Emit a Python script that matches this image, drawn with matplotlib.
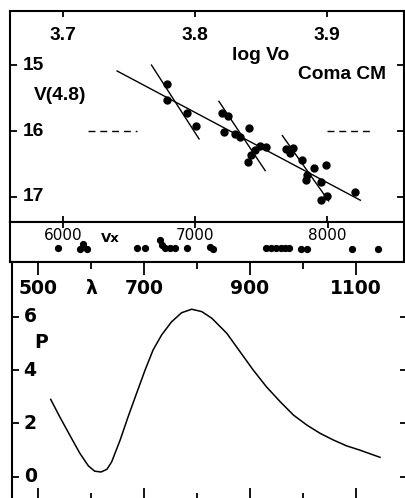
import matplotlib
matplotlib.use("Agg")
import matplotlib.pyplot as plt

# top panel: log Vo vs V(4.8), Coma CM
logv0 = [3.779, 3.779, 3.794, 3.801, 3.820, 3.825, 3.822, 3.830, 3.834, 3.841,
         3.840, 3.842, 3.845, 3.849, 3.854, 3.869, 3.874, 3.872, 3.881, 3.890,
         3.899, 3.885, 3.884, 3.895, 3.895, 3.900, 3.921]
vmag = [15.29, 15.53, 15.73, 15.92, 15.73, 15.77, 16.02, 16.05, 16.09, 15.96,
        16.47, 16.36, 16.29, 16.22, 16.25, 16.27, 16.26, 16.34, 16.44, 16.56,
        16.51, 16.67, 16.74, 16.77, 17.04, 16.99, 16.93]
# fitted lines (x0, x1), (y0, y1)
fit_x = [(3.741, 3.925), (3.767, 3.803), (3.818, 3.853), (3.866, 3.901)]
fit_y = [(15.09, 17.05), (15.00, 16.12), (15.55, 16.60), (16.07, 17.06)]
dash_x = [(3.719, 3.756), (3.900, 3.935)]
dash_y = 16.0
top_ticks = [3.7, 3.8, 3.9]
v_ticks = [15, 16, 17]

# strip: Vx
vx = [5967, 6131, 6155, 6181, 6563, 6621, 6734, 6747, 6772, 6810, 6847, 6936,
      7113, 7137, 7532, 7570, 7608, 7645, 7675, 7706, 7796, 7842, 8181, 8382]
vx_level = [3.4, 3.2, 4.4, 3.2, 3.4, 3.4, 5.5, 4.2, 3.4, 3.4, 3.4, 3.4,
            3.8, 3.2, 3.4, 3.4, 3.4, 3.4, 3.4, 3.4, 3.2, 3.2, 3.2, 3.2]
vx_ticks = [6000, 7000, 8000]

# bottom panel: P(lambda)
lam = [524, 541, 560, 579, 595, 607, 619, 630, 639, 655, 670, 686, 702, 717,
       733, 752, 771, 790, 809, 828, 856, 881, 906, 931, 957, 982, 1007,
       1032, 1057, 1082, 1107, 1145]
pval = [2.90, 2.25, 1.56, 0.88, 0.41, 0.21, 0.18, 0.28, 0.56, 1.38, 2.25, 3.13,
        4.00, 4.75, 5.31, 5.81, 6.15, 6.28, 6.19, 5.94, 5.38, 4.69, 4.00, 3.37,
        2.81, 2.31, 1.94, 1.63, 1.38, 1.16, 1.00, 0.73]
lam_ticks = [500, 600, 700, 800, 900, 1000, 1100]
lam_labels = ["500", "λ", "700", "", "900", "", "1100"]
p_ticks = [0, 2, 4, 6]

W, H = 406, 498
fig = plt.figure(figsize=(W / 100, H / 100), dpi=100)

def frac(l, t, r, b):
    return [l / W, (H - b) / H, (r - l) / W, (b - t) / H]

lw_sp = 1.5
f_top = dict(family="Liberation Sans", weight="bold", fontsize=13.8)

# ---- top panel
ax = fig.add_axes(frac(10, 11, 404, 222))
ax.plot(logv0, vmag, "o", color="k", ms=5)
for xs, ys in zip(fit_x, fit_y):
    ax.plot(xs, ys, "-", color="k", lw=1.0)
for xs in dash_x:
    ax.plot(xs, [dash_y, dash_y], color="k", lw=1.0, dashes=(5, 3.5))
ax.set_xlim(3.660, 3.958)
ax.set_ylim(17.38, 14.18)
ax.set_xticks(top_ticks, labels=[])
ax.set_yticks(v_ticks, labels=[])
ax.tick_params(axis="x", direction="in", top=True, bottom=True, length=4, width=1.3)
ax.tick_params(axis="y", direction="in", left=True, right=True, length=5, width=1.3)
for t in top_ticks:
    ax.text(t, 0.886, f"{t:.1f}", transform=ax.get_xaxis_transform(),
            ha="center", va="center", **f_top)
for t in v_ticks:
    ax.text(0.033, t, str(t), transform=ax.get_yaxis_transform(),
            ha="left", va="center", **f_top)
ax.text(0.635, 0.79, "log Vo", transform=ax.transAxes, ha="center", va="center", **f_top)
ax.text(0.843, 0.70, "Coma CM", transform=ax.transAxes, ha="center", va="center", **f_top)
ax.text(0.126, 0.60, "V(4.8)", transform=ax.transAxes, ha="center", va="center", **f_top)
for s in ax.spines.values():
    s.set_linewidth(lw_sp)

# ---- Vx strip
ax2 = fig.add_axes(frac(10, 222, 404, 262))
ax2.plot(vx, vx_level, "o", color="k", ms=4.2)
ax2.set_xlim(5602, 8576)
ax2.set_ylim(0, 10)
ax2.set_xticks(vx_ticks, labels=[])
ax2.set_yticks([])
ax2.tick_params(axis="x", direction="in", top=True, bottom=False, length=4, width=1.3)
for t in vx_ticks:
    ax2.text(t, 6.75, str(t), ha="center", va="center",
             family="DejaVu Sans", fontsize=11)
ax2.text(6357, 5.8, "Vx", ha="center", va="center", family="DejaVu Sans",
         fontsize=9.5, weight="bold")
for s in ax2.spines.values():
    s.set_linewidth(lw_sp)

# ---- bottom panel
ax3 = fig.add_axes(frac(12, 262, 407, 500))
ax3.plot(lam, pval, "-", color="k", lw=1.1)
ax3.set_xlim(451, 1196)
ax3.set_ylim(-0.87, 8.05)
ax3.set_xticks([500, 700, 900, 1100], labels=[])
ax3.set_xticks([600, 800, 1000], labels=[], minor=True)
ax3.set_yticks(p_ticks, labels=[])
ax3.tick_params(axis="x", which="major", direction="in", top=True, bottom=True,
                length=9, width=1.3)
ax3.tick_params(axis="x", which="minor", direction="in", top=True, bottom=True,
                length=5, width=1.3)
ax3.tick_params(axis="y", direction="in", left=True, right=True, length=5, width=1.3)
f_bot = dict(family="DejaVu Sans", weight="bold", fontsize=13.5)
for t, lab in zip(lam_ticks, lam_labels):
    if lab:
        ax3.text(t, 0.887, lab, transform=ax3.get_xaxis_transform(),
                 ha="center", va="center", **f_bot)
for t in p_ticks:
    ax3.text(0.046, t, str(t), transform=ax3.get_yaxis_transform(),
             ha="center", va="center", **f_bot)
ax3.text(0.073, 0.66, "P", transform=ax3.transAxes, ha="center", va="center", **f_bot)
for s in ax3.spines.values():
    s.set_linewidth(lw_sp)

fig.savefig("out.png", dpi=100)
